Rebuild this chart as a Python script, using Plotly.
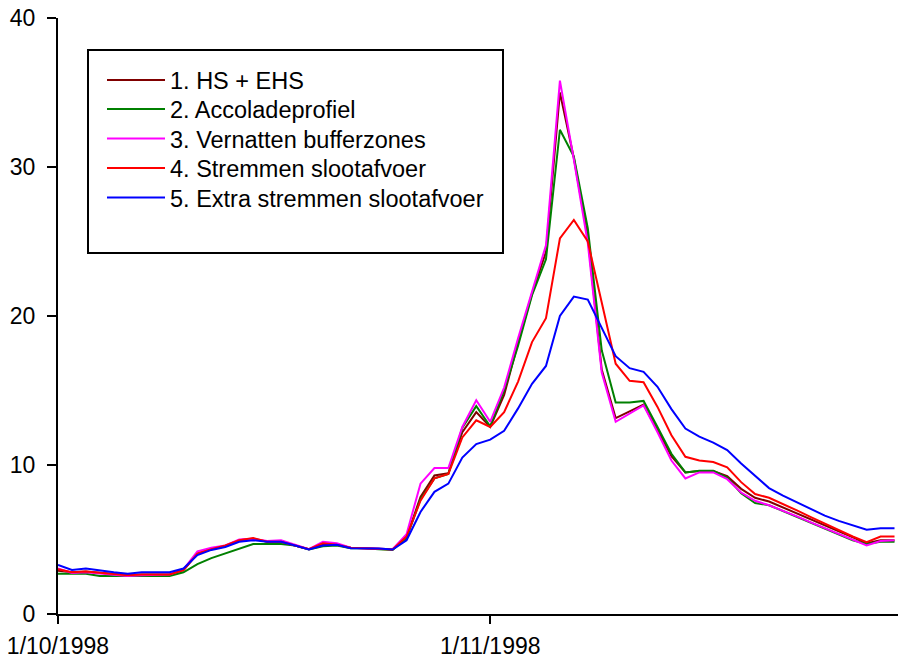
import pandas as pd
import plotly.graph_objects as go

dates = pd.date_range("1998-10-01", periods=61, freq="D")

series_names = [
    "1. HS + EHS",
    "2. Accoladeprofiel",
    "3. Vernatten bufferzones",
    "4. Stremmen slootafvoer",
    "5. Extra stremmen slootafvoer",
]
colors = ["#800000", "#008000", "#FF00FF", "#FF0000", "#0000FF"]

hs_ehs = [2.9, 2.8, 2.85, 2.75, 2.65, 2.6, 2.65, 2.65, 2.65, 2.95,
          4.05, 4.35, 4.55, 4.95, 5.05, 4.85, 4.85, 4.6, 4.35, 4.7,
          4.65, 4.45, 4.42, 4.4, 4.35, 5.15, 7.85, 9.3, 9.45, 12.2,
          13.55, 12.55, 14.7, 18.2, 21.5, 24.3, 35.0, 30.6, 25.3, 16.4,
          13.15, 13.6, 14.05, 12.35, 10.6, 9.5, 9.6, 9.6, 9.25, 8.4,
          7.8, 7.55, 7.15, 6.75, 6.35, 5.95, 5.55, 5.15, 4.75, 4.95, 4.95]
accolade = [2.7, 2.7, 2.7, 2.55, 2.55, 2.55, 2.55, 2.55, 2.55, 2.8,
            3.35, 3.75, 4.05, 4.4, 4.7, 4.7, 4.7, 4.6, 4.33, 4.55,
            4.6, 4.42, 4.42, 4.35, 4.3, 5.1, 7.7, 9.1, 9.4, 12.5,
            13.95, 12.6, 15.0, 18.0, 21.4, 23.8, 32.5, 30.7, 25.9, 17.7,
            14.2, 14.2, 14.3, 12.55, 10.75, 9.5, 9.62, 9.62, 9.15, 8.1,
            7.45, 7.3, 6.9, 6.5, 6.1, 5.72, 5.33, 4.95, 4.7, 4.85, 4.85]
vernatten = [3.05, 2.75, 2.8, 2.7, 2.6, 2.55, 2.6, 2.6, 2.65, 3.0,
             4.2, 4.45, 4.6, 5.0, 5.05, 4.9, 4.95, 4.65, 4.35, 4.85,
             4.75, 4.45, 4.42, 4.4, 4.35, 5.35, 8.75, 9.8, 9.8, 12.55,
             14.35, 12.9, 15.2, 18.5, 21.7, 24.75, 35.8, 30.5, 24.9, 16.2,
             12.9, 13.45, 14.0, 12.2, 10.3, 9.1, 9.5, 9.5, 9.05, 8.15,
             7.6, 7.3, 6.95, 6.55, 6.15, 5.75, 5.35, 4.95, 4.6, 4.9, 4.95]
stremmen = [3.0, 2.8, 2.85, 2.75, 2.65, 2.6, 2.65, 2.65, 2.65, 2.95,
            4.05, 4.35, 4.6, 4.95, 5.1, 4.85, 4.85, 4.6, 4.35, 4.75,
            4.65, 4.45, 4.42, 4.4, 4.33, 5.2, 7.6, 9.1, 9.4, 11.85,
            13.0, 12.55, 13.55, 15.6, 18.25, 19.85, 25.2, 26.45, 25.0, 20.9,
            16.8, 15.65, 15.55, 13.9, 12.0, 10.55, 10.3, 10.2, 9.85, 8.85,
            8.05, 7.8, 7.4, 6.95, 6.5, 6.05, 5.65, 5.2, 4.82, 5.2, 5.2]
extra_stremmen = [3.3, 2.95, 3.05, 2.9, 2.8, 2.7, 2.8, 2.8, 2.8, 3.05,
                  3.95, 4.3, 4.5, 4.85, 4.95, 4.85, 4.85, 4.6, 4.33, 4.6,
                  4.65, 4.42, 4.42, 4.4, 4.33, 4.95, 6.85, 8.2, 8.75, 10.5,
                  11.4, 11.7, 12.3, 13.8, 15.45, 16.65, 20.0, 21.3, 21.1, 19.2,
                  17.3, 16.5, 16.25, 15.25, 13.75, 12.45, 11.9, 11.5, 11.0, 10.1,
                  9.25, 8.45, 7.95, 7.5, 7.05, 6.6, 6.25, 5.95, 5.65, 5.75, 5.75]

all_series = [hs_ehs, accolade, vernatten, stremmen, extra_stremmen]

tick_vals = ["1998-10-01", "1998-11-01"]
tick_text = ["1/10/1998", "1/11/1998"]

FONT = "Arial, 'Liberation Sans', sans-serif"
TICK_SIZE = 23
LEG_SIZE = 23.5

W, H = 898, 662
ml, mr, mt, mb = 58, 0, 18, 48
pw, ph = W - ml - mr, H - mt - mb

def px_x(p):
    return (p - ml) / pw

def px_y(p):
    return (H - mb - p) / ph

legend_ids = ["legend", "legend2", "legend3", "legend4", "legend5"]
row_centers = [80, 109, 138.5, 168, 197.5]
item_h = LEG_SIZE * 1.3 + 3
top_offset = item_h / 2 + 5

fig = go.Figure()
for name, vals, col, lid in zip(series_names, all_series, colors, legend_ids):
    fig.add_trace(go.Scatter(x=dates, y=vals, mode="lines", name=name,
                             legend=lid, line=dict(color=col, width=2)))

legend_layout = {}
for lid, yc in zip(legend_ids, row_centers):
    legend_layout[lid] = dict(
        x=px_x(102), y=px_y(yc - top_offset), xanchor="left", yanchor="top",
        bgcolor="rgba(0,0,0,0)", borderwidth=0,
        font=dict(family=FONT, size=LEG_SIZE, color="black"),
        itemwidth=58,
    )

fig.update_layout(
    width=W, height=H,
    margin=dict(l=ml, r=mr, t=mt, b=mb, pad=0),
    paper_bgcolor="white", plot_bgcolor="white",
    font=dict(family=FONT, size=TICK_SIZE, color="black"),
    showlegend=True,
    xaxis=dict(
        range=["1998-10-01", "1998-11-30 06:00"],
        tickvals=tick_vals, ticktext=tick_text,
        ticks="outside", ticklen=8, tickwidth=2, tickcolor="black",
        showline=True, linecolor="black", linewidth=2,
        showgrid=False, zeroline=False,
        ticklabelstandoff=2,
        tickfont=dict(family=FONT, size=TICK_SIZE, color="black"),
    ),
    yaxis=dict(
        range=[0, 40], tickvals=[0, 10, 20, 30, 40],
        ticks="outside", ticklen=9, tickwidth=2, tickcolor="black",
        showline=True, linecolor="black", linewidth=2,
        showgrid=False, zeroline=False,
        ticklabelstandoff=7,
        tickfont=dict(family=FONT, size=TICK_SIZE, color="black"),
    ),
    shapes=[dict(type="rect", xref="paper", yref="paper",
                 x0=px_x(88), x1=px_x(503), y0=px_y(253), y1=px_y(50),
                 line=dict(color="black", width=2), fillcolor="rgba(0,0,0,0)",
                 layer="above")],
    **legend_layout,
)

fig.write_html("out.html")
